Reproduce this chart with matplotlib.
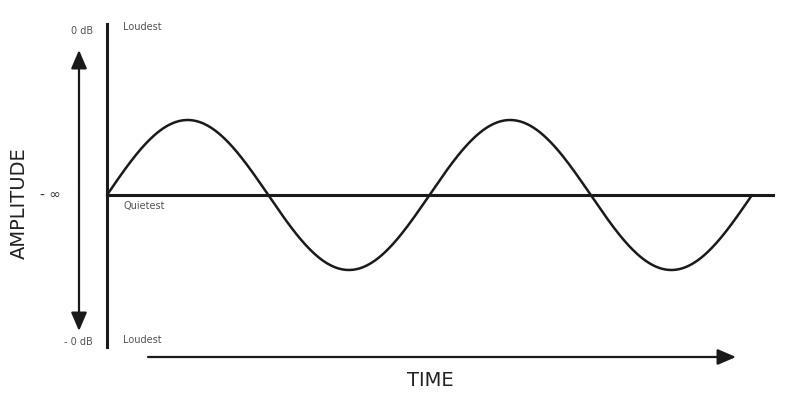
import numpy as np
import matplotlib
matplotlib.use("Agg")
import matplotlib.pyplot as plt

## diagram values
n_cycles = 2          # full sine periods shown
amplitude = 1.0       # peak of the wave (relative)
level_labels = ["Loudest", "Quietest", "Loudest"]
db_labels = ["0 dB", "- \u221e", "- 0 dB"]
axis_titles = ["AMPLITUDE", "TIME"]

## layout in pixels (figure is 792x400)
x0, y0 = 107, 195        # origin of the wave
px_cycle = 322.5         # width of one period
px_amp = 75              # height of amplitude 1
txt_grey = "#555555"

plt.close('all')
fig = plt.figure(figsize=(7.92, 4.0), dpi=100)
ax = fig.add_axes([0, 0, 1, 1])
ax.set_xlim(0, 792)
ax.set_ylim(400, 0)
ax.axis('off')

# sine wave
t = np.linspace(0, n_cycles, 600)
ax.plot(x0 + t * px_cycle, y0 - px_amp * amplitude * np.sin(2 * np.pi * t),
        color='#1a1a1a', lw=1.8, solid_capstyle='round')

# axes lines
ax.plot([x0, x0], [24, 347], color='#1a1a1a', lw=2.2)
ax.plot([x0, 773], [y0, y0], color='#1a1a1a', lw=2.2)

# double arrow for amplitude
arrow_kw = dict(arrowstyle='-|>,head_length=0.7,head_width=0.3', color='#1a1a1a',
                lw=1.6, mutation_scale=16, shrinkA=0, shrinkB=0)
ax.annotate('', xy=(79, 50), xytext=(79, 190), arrowprops=arrow_kw)
ax.annotate('', xy=(79, 331), xytext=(79, 190), arrowprops=arrow_kw)

# time arrow
ax.annotate('', xy=(736, 357), xytext=(148, 357), arrowprops=arrow_kw)

# small labels
ax.text(123, 27, level_labels[0], fontsize=7, color=txt_grey, va='center', ha='left')
ax.text(123, 206, level_labels[1], fontsize=7, color=txt_grey, va='center', ha='left')
ax.text(123, 340, level_labels[2], fontsize=7, color=txt_grey, va='center', ha='left')
ax.text(93, 31, db_labels[0], fontsize=7, color=txt_grey, va='center', ha='right')
ax.text(50, 195, db_labels[1], fontsize=10, color='#333333', va='center', ha='center')
ax.text(93, 342, db_labels[2], fontsize=7, color=txt_grey, va='center', ha='right')

# axis titles
ax.text(19, 203, axis_titles[0], fontsize=14, color='#222222', va='center',
        ha='center', rotation=90)
ax.text(430, 381, axis_titles[1], fontsize=14, color='#222222', va='center', ha='center')

fig.savefig('out.png', dpi=100)
